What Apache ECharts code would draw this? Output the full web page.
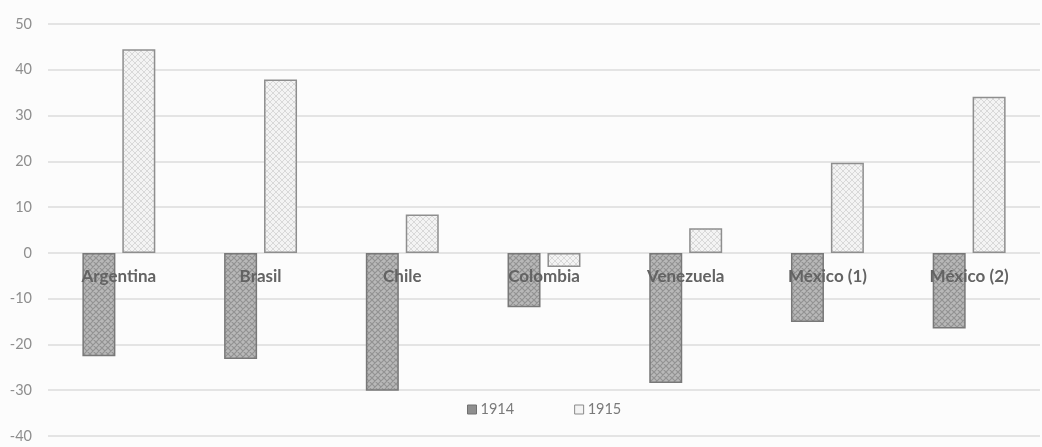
<!DOCTYPE html>
<html>
<head>
<meta charset="utf-8">
<script src="https://cdn.jsdelivr.net/npm/echarts@6/dist/echarts.min.js"></script>
<style>
  html, body { margin: 0; padding: 0; background: #fcfcfc; }
  #chart { width: 1042px; height: 447px; }
</style>
</head>
<body>
<div id="chart"></div>
<script>
// Countries along the category axis
const categories = ['Argentina', 'Brasil', 'Chile', 'Colombia', 'Venezuela', 'México (1)', 'México (2)'];
// Percent change by country
const values1914 = [-22.6, -23.2, -30.1, -11.9, -28.4, -15.1, -16.5];
const values1915 = [44.5, 37.9, 8.4, -3.1, 5.4, 19.7, 34.1];
// Value axis range
const yMin = -40, yMax = 50, yStep = 10;

// Plot box
const gridTop = 24, gridBottom = 11, chartHeight = 447;
// Lift the category axis from the bottom edge up to the zero line
const plotHeight = chartHeight - gridTop - gridBottom;
const zeroLift = plotHeight * (0 - yMin) / (yMax - yMin);

// Hatched fills for the two series
function hatch(bg, line, size, width) {
  const c = document.createElement('canvas');
  c.width = size; c.height = size;
  const g = c.getContext('2d');
  g.fillStyle = bg;
  g.fillRect(0, 0, size, size);
  g.strokeStyle = line;
  g.lineWidth = width;
  g.beginPath();
  g.moveTo(0, 0); g.lineTo(size, size);
  g.moveTo(-size, 0); g.lineTo(size, 2 * size);
  g.moveTo(0, -size); g.lineTo(2 * size, size);
  g.moveTo(size, 0); g.lineTo(0, size);
  g.moveTo(2 * size, 0); g.lineTo(0, 2 * size);
  g.moveTo(size, -size); g.lineTo(-size, size);
  g.stroke();
  return c;
}
const darkFill = { image: hatch('#b8b8b8', '#929292', 6, 1.2), repeat: 'repeat' };
const lightFill = { image: hatch('#f3f3f3', '#d8d8d8', 6, 1), repeat: 'repeat' };

const chart = echarts.init(document.getElementById('chart'), null, { renderer: 'canvas' });
chart.setOption({
  backgroundColor: '#fcfcfc',
  animation: false,
  textStyle: { fontFamily: 'Lato, "Open Sans", sans-serif' },
  grid: { left: 48, right: 2, top: gridTop, bottom: gridBottom, containLabel: false, outerBoundsMode: 'none' },
  legend: {
    bottom: 25,
    left: 462,
    itemWidth: 9,
    itemHeight: 9,
    itemGap: 60,
    icon: 'rect',
    textStyle: { color: '#7a7a7a', fontSize: 14.5, padding: [0, 0, 0, -1] },
    data: [
      { name: '1914', itemStyle: { color: '#8f8f8f', borderColor: '#707070', borderWidth: 1 } },
      { name: '1915', itemStyle: { color: '#f4f4f4', borderColor: '#8a8a8a', borderWidth: 1 } }
    ]
  },
  xAxis: {
    type: 'category',
    data: categories,
    position: 'bottom',
    offset: -zeroLift,
    z: 10,
    axisLine: { show: false, onZero: false },
    axisTick: { show: false },
    axisLabel: {
      show: true,
      color: '#636363',
      fontSize: 17,
      fontWeight: 'bold',
      margin: 15
    },
    splitLine: { show: false }
  },
  yAxis: {
    type: 'value',
    min: yMin,
    max: yMax,
    interval: yStep,
    axisLine: { show: false },
    axisTick: { show: false },
    axisLabel: { color: '#8e8e8e', fontSize: 14.5, margin: 16 },
    splitLine: { lineStyle: { color: '#dcdcdc', width: 1.5 } }
  },
  series: [
    {
      name: '1914',
      type: 'bar',
      data: values1914,
      barWidth: 33,
      barGap: '21%',
      itemStyle: { color: darkFill, borderColor: '#787878', borderWidth: 1.5 }
    },
    {
      name: '1915',
      type: 'bar',
      data: values1915,
      barWidth: 33,
      itemStyle: { color: lightFill, borderColor: '#8e8e8e', borderWidth: 1.5 }
    }
  ]
});
</script>
</body>
</html>
